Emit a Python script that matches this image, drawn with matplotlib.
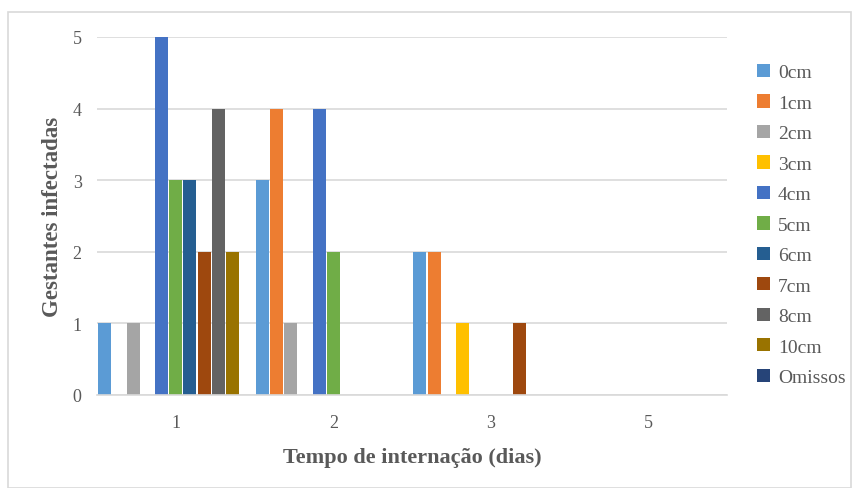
import matplotlib
matplotlib.use("Agg")
import matplotlib.pyplot as plt
from matplotlib.patches import Rectangle
import numpy as np

categories = ["1", "2", "3", "5"]
series_names = ["0cm", "1cm", "2cm", "3cm", "4cm", "5cm", "6cm", "7cm", "8cm", "10cm", "Omissos"]
values = {
    "0cm":     [1, 3, 2, 0],
    "1cm":     [0, 4, 2, 0],
    "2cm":     [1, 1, 0, 0],
    "3cm":     [0, 0, 1, 0],
    "4cm":     [5, 4, 0, 0],
    "5cm":     [3, 2, 0, 0],
    "6cm":     [3, 0, 0, 0],
    "7cm":     [2, 0, 1, 0],
    "8cm":     [4, 0, 0, 0],
    "10cm":    [2, 0, 0, 0],
    "Omissos": [0, 0, 0, 0],
}
colors = ["#5B9BD5", "#ED7D31", "#A5A5A5", "#FFC000", "#4472C4", "#70AD47",
          "#255E91", "#9E480E", "#636363", "#997300", "#264478"]
y_ticks = [0, 1, 2, 3, 4, 5]

plt.rcParams['font.family'] = ['Liberation Serif', 'DejaVu Serif']
text_color = "#595959"

fig = plt.figure(figsize=(8.54, 4.89), dpi=100)
fig.patches.append(Rectangle((8/854, 0.0), (851-8)/854, 1 - 13/489, transform=fig.transFigure,
                             fill=False, edgecolor="#D9D9D9", linewidth=1.2))
ax = fig.add_axes([97/854, 1 - 396/489, (727-97)/854, (396-38)/489])

x = np.arange(len(categories))
n = len(series_names)
slot = 0.09
bw = 0.083
for i, name in enumerate(series_names):
    offs = (i - (n - 1) / 2) * slot
    ax.bar(x + offs, values[name], width=bw, color=colors[i], label=name, zorder=3)

ax.set_xlim(-0.5, len(categories) - 0.5)
ax.set_ylim(0, 5)
ax.set_yticks(y_ticks)
ax.set_xticks(x)
ax.set_xticklabels(categories)
ax.tick_params(length=0, labelsize=13, colors=text_color)
ax.tick_params(axis='x', pad=14)
ax.tick_params(axis='y', pad=11)
ax.yaxis.grid(True, color="#D9D9D9", linewidth=1.2, zorder=0)
for s in ["top", "right", "left"]:
    ax.spines[s].set_visible(False)
ax.spines["bottom"].set_color("#D9D9D9")
ax.spines["bottom"].set_linewidth(1.2)
ax.spines["bottom"].set_zorder(4)

ax.set_xlabel("Tempo de internação (dias)", fontsize=16, fontweight="bold", color=text_color, labelpad=11)
ax.set_ylabel("Gestantes infectadas", fontsize=16.5, fontweight="bold", color=text_color, labelpad=7)

leg = fig.legend(loc="upper left", bbox_to_anchor=(757/854, 1 - 65/489), frameon=False,
                 fontsize=14, handlelength=0.67, handleheight=0.67, handletextpad=0.4,
                 labelspacing=0.67, labelcolor=text_color, borderpad=0, borderaxespad=0)

fig.savefig("out.png", dpi=100)
